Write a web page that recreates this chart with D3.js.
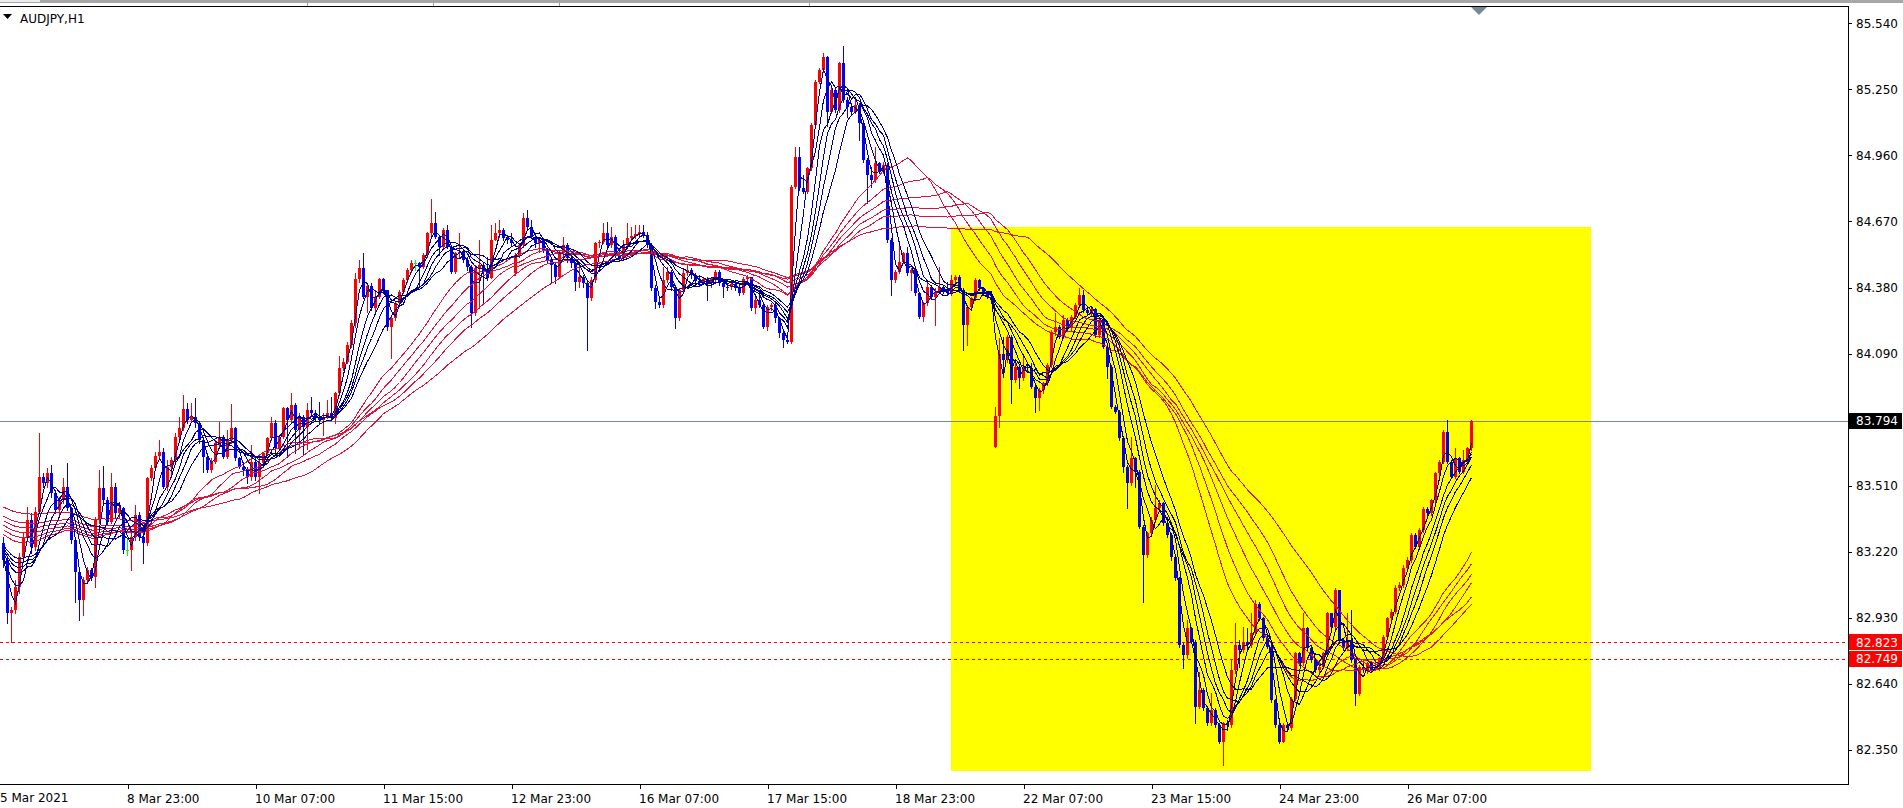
<!DOCTYPE html>
<html><head><meta charset="utf-8">
<script src="https://cdn.jsdelivr.net/npm/d3@7"></script>
<style>
html,body{margin:0;padding:0;background:#fff;overflow:hidden}
svg{display:block;font-family:"DejaVu Sans",sans-serif;}
</style></head><body>
<svg id="c" width="1903" height="808"></svg>
<script>
const symbolLabel = "AUDJPY,H1";
const closes = [
83.184,82.950,82.964,83.067,83.198,83.286,83.359,83.242,83.396,83.550,
83.520,83.564,83.477,83.403,83.447,83.506,83.411,83.272,83.133,83.008,
83.096,83.140,83.111,83.359,83.498,83.447,83.352,83.506,83.389,83.411,
83.228,83.228,83.286,83.381,83.286,83.257,83.542,83.586,83.640,83.659,
83.506,83.594,83.623,83.725,83.762,83.845,83.798,83.813,83.784,83.711,
83.637,83.579,83.616,83.696,83.725,83.637,83.711,83.762,83.630,83.594,
83.579,83.550,83.615,83.550,83.608,83.652,83.718,83.784,83.674,83.725,
83.850,83.798,83.864,83.754,83.813,83.769,83.842,83.831,83.813,83.798,
83.813,83.828,83.806,83.915,84.025,84.054,84.128,84.223,84.416,84.468,
84.337,84.387,84.289,84.340,84.416,84.369,84.208,84.245,84.311,84.362,
84.413,84.457,84.486,84.486,84.471,84.523,84.618,84.662,84.603,84.559,
84.632,84.559,84.450,84.530,84.537,84.501,84.471,84.267,84.464,84.479,
84.450,84.420,84.589,84.618,84.632,84.596,84.589,84.574,84.523,84.567,
84.684,84.647,84.603,84.574,84.589,84.545,84.501,84.479,84.428,84.530,
84.567,84.508,84.486,84.406,84.428,84.398,84.332,84.413,84.574,84.581,
84.618,84.567,84.603,84.523,84.508,84.567,84.596,84.606,84.615,84.625,
84.610,84.567,84.376,84.318,84.303,84.413,84.450,84.384,84.245,84.369,
84.445,84.457,84.435,84.410,84.401,84.416,84.398,84.420,84.450,84.401,
84.384,84.381,84.395,84.376,84.357,84.416,84.425,84.289,84.325,84.303,
84.208,84.296,84.303,84.245,84.179,84.150,84.142,84.823,84.955,84.816,
84.801,84.904,85.094,85.284,85.335,85.394,85.152,85.248,85.160,85.365,
85.204,85.174,85.152,85.182,85.101,84.940,84.874,84.852,84.926,84.889,
84.918,84.589,84.413,84.450,84.494,84.530,84.443,84.457,84.355,84.252,
84.311,84.384,84.340,84.362,84.384,84.370,84.355,84.413,84.428,84.370,
84.216,84.296,84.333,84.413,84.377,84.355,84.340,84.326,83.814,84.090,
84.062,84.164,83.974,84.033,83.981,84.033,84.025,83.945,83.894,83.930,
83.960,84.040,84.186,84.208,84.164,84.238,84.201,84.252,84.303,84.347,
84.281,84.267,84.284,84.172,84.238,84.121,84.033,83.857,83.835,83.718,
83.594,83.521,83.630,83.572,83.330,83.206,83.301,83.360,83.411,83.433,
83.345,83.294,83.199,83.104,82.811,82.767,82.884,82.825,82.540,82.613,
82.533,82.467,82.526,82.460,82.387,82.467,82.460,82.701,82.811,82.789,
82.825,82.811,82.862,82.993,82.928,82.840,82.803,82.569,82.459,82.386,
82.459,82.445,82.576,82.774,82.730,82.884,82.796,82.745,82.701,82.715,
82.774,82.950,82.891,83.052,82.832,82.796,82.832,82.745,82.598,82.715,
82.701,82.730,82.701,82.715,82.752,82.847,82.928,82.957,83.059,83.074,
83.147,83.184,83.293,83.242,83.315,83.410,83.389,83.447,83.564,83.615,
83.747,83.615,83.549,83.630,83.571,83.623,83.674,83.794];
const highs = [
83.286,83.198,82.979,83.096,83.213,83.301,83.418,83.389,83.418,83.740,
83.564,83.586,83.601,83.491,83.462,83.542,83.608,83.418,83.286,83.140,
83.111,83.155,83.147,83.374,83.579,83.597,83.462,83.564,83.520,83.433,
83.418,83.275,83.301,83.425,83.396,83.330,83.550,83.601,83.659,83.711,
83.674,83.623,83.637,83.740,83.813,83.908,83.872,83.874,83.894,83.791,
83.725,83.652,83.630,83.711,83.791,83.733,83.755,83.869,83.769,83.637,
83.616,83.594,83.689,83.630,83.638,83.659,83.725,83.813,83.798,83.732,
83.857,83.857,83.915,83.872,83.828,83.820,83.872,83.901,83.842,83.879,
83.828,83.886,83.901,83.923,84.081,84.069,84.142,84.237,84.442,84.501,
84.530,84.398,84.398,84.369,84.420,84.420,84.369,84.259,84.318,84.369,
84.420,84.464,84.501,84.501,84.493,84.530,84.625,84.767,84.713,84.610,
84.640,84.654,84.567,84.537,84.618,84.545,84.515,84.479,84.479,84.589,
84.486,84.515,84.654,84.662,84.676,84.640,84.610,84.618,84.530,84.574,
84.706,84.720,84.676,84.610,84.603,84.596,84.552,84.508,84.493,84.545,
84.603,84.574,84.523,84.493,84.471,84.435,84.413,84.428,84.581,84.589,
84.662,84.669,84.647,84.610,84.545,84.589,84.662,84.647,84.654,84.654,
84.654,84.625,84.574,84.391,84.340,84.471,84.471,84.457,84.391,84.376,
84.457,84.479,84.464,84.442,84.435,84.428,84.425,84.428,84.457,84.457,
84.413,84.398,84.406,84.401,84.391,84.428,84.435,84.428,84.340,84.369,
84.311,84.303,84.311,84.311,84.252,84.193,84.164,84.830,84.999,84.999,
84.874,84.911,85.101,85.291,85.343,85.408,85.397,85.262,85.255,85.372,
85.441,85.218,85.189,85.204,85.189,85.109,84.948,84.911,84.999,84.933,
84.933,84.926,84.596,84.457,84.582,84.538,84.560,84.465,84.465,84.362,
84.318,84.399,84.392,84.377,84.472,84.392,84.406,84.435,84.435,84.435,
84.377,84.304,84.340,84.421,84.416,84.384,84.362,84.348,83.857,84.160,
84.164,84.172,84.172,84.047,84.040,84.084,84.047,84.047,83.952,83.938,
83.967,84.047,84.194,84.267,84.216,84.259,84.245,84.259,84.311,84.377,
84.369,84.296,84.293,84.289,84.245,84.245,84.128,84.040,83.864,83.842,
83.725,83.601,83.725,83.638,83.579,83.338,83.308,83.374,83.513,83.447,
83.440,83.352,83.301,83.206,83.111,82.818,82.921,82.891,82.833,82.694,
82.621,82.540,82.599,82.533,82.467,82.474,82.482,82.745,82.906,82.835,
82.891,82.884,82.950,83.008,83.001,82.935,82.847,82.811,82.576,82.467,
82.467,82.474,82.584,82.781,82.781,82.950,82.891,82.803,82.752,82.730,
82.781,82.957,82.950,83.059,83.052,82.840,82.950,82.964,82.752,82.723,
82.730,82.737,82.737,82.745,82.759,82.854,82.935,82.971,83.074,83.089,
83.162,83.198,83.301,83.301,83.323,83.418,83.418,83.454,83.571,83.623,
83.754,83.798,83.623,83.674,83.637,83.667,83.681,83.798];
const lows = [
83.155,82.909,82.825,82.950,83.037,83.184,83.272,83.213,83.228,83.389,
83.506,83.506,83.462,83.389,83.374,83.433,83.403,83.257,83.001,82.920,
82.942,83.081,83.096,83.067,83.345,83.433,83.337,83.345,83.374,83.374,
83.213,83.206,83.140,83.272,83.272,83.169,83.250,83.535,83.579,83.630,
83.498,83.491,83.550,83.608,83.711,83.755,83.784,83.791,83.769,83.696,
83.572,83.572,83.572,83.608,83.681,83.630,83.630,83.696,83.623,83.586,
83.557,83.520,83.535,83.535,83.476,83.593,83.645,83.711,83.652,83.667,
83.718,83.638,83.784,83.652,83.674,83.645,83.670,83.820,83.798,83.784,
83.732,83.806,83.798,83.784,83.908,84.018,84.047,84.120,84.208,84.406,
84.332,84.274,84.281,84.274,84.332,84.354,84.193,84.069,84.237,84.303,
84.354,84.406,84.450,84.457,84.384,84.464,84.515,84.610,84.596,84.523,
84.552,84.552,84.442,84.442,84.515,84.493,84.457,84.208,84.259,84.289,
84.311,84.413,84.479,84.589,84.603,84.589,84.574,84.567,84.435,84.515,
84.559,84.640,84.596,84.559,84.537,84.537,84.493,84.406,84.398,84.420,
84.515,84.493,84.471,84.369,84.384,84.384,84.106,84.325,84.406,84.559,
84.574,84.559,84.559,84.515,84.501,84.501,84.559,84.589,84.596,84.603,
84.603,84.559,84.369,84.289,84.296,84.296,84.406,84.369,84.201,84.237,
84.362,84.435,84.420,84.398,84.391,84.395,84.325,84.384,84.410,84.391,
84.340,84.369,84.372,84.369,84.347,84.351,84.406,84.281,84.267,84.296,
84.201,84.193,84.281,84.230,84.164,84.120,84.135,84.135,84.816,84.809,
84.794,84.794,84.896,85.087,85.277,85.328,85.087,85.145,85.152,85.152,
85.196,85.130,85.138,85.145,85.028,84.933,84.750,84.823,84.845,84.882,
84.882,84.582,84.348,84.406,84.443,84.487,84.435,84.370,84.348,84.245,
84.231,84.304,84.333,84.216,84.355,84.355,84.348,84.348,84.399,84.362,
84.106,84.128,84.289,84.326,84.370,84.348,84.333,84.311,83.680,83.770,
83.989,84.055,83.872,83.967,83.938,83.974,84.018,83.938,83.835,83.842,
83.916,83.952,84.033,84.172,84.157,84.157,84.194,84.194,84.245,84.296,
84.274,84.259,84.259,84.164,84.164,84.113,83.981,83.850,83.828,83.711,
83.572,83.411,83.513,83.506,83.323,83.001,83.199,83.294,83.352,83.404,
83.338,83.286,83.184,83.096,82.804,82.709,82.752,82.818,82.467,82.533,
82.526,82.460,82.460,82.452,82.379,82.284,82.438,82.452,82.686,82.716,
82.781,82.796,82.803,82.854,82.920,82.832,82.796,82.562,82.452,82.380,
82.386,82.437,82.437,82.569,82.723,82.723,82.789,82.737,82.693,82.693,
82.708,82.767,82.884,82.884,82.825,82.789,82.789,82.737,82.547,82.591,
82.693,82.686,82.693,82.701,82.701,82.745,82.840,82.920,82.950,83.052,
83.067,83.140,83.176,83.235,83.235,83.308,83.381,83.381,83.440,83.557,
83.608,83.608,83.542,83.542,83.564,83.564,83.608,83.667];
const firstOpen = 83.257;
const gapOpens = [[128, 84.442], [248, 83.682]];
const shortPeriods = [3, 5, 8, 10, 12, 15];
const shortStart = [83.19, 83.20, 83.22, 83.23, 83.24, 83.25];
const longPeriods = [30, 35, 40, 45, 50, 60];
const longStart = [83.30, 83.32, 83.34, 83.36, 83.38, 83.42];
const priceTicks = [85.54, 85.25, 84.96, 84.67, 84.38, 84.09, 83.51, 83.22, 82.93, 82.64, 82.35];
const timeTickBars = [31, 63, 95, 127, 159, 191, 223, 255, 287, 319, 351];
const timeTickLabels = ["8 Mar 23:00","10 Mar 07:00","11 Mar 15:00","12 Mar 23:00","16 Mar 07:00","17 Mar 15:00","18 Mar 23:00","22 Mar 07:00","23 Mar 15:00","24 Mar 23:00","26 Mar 07:00"];
const firstDateLabel = "5 Mar 2021";
const currentPrice = 83.794;
const levelPrices = [82.823, 82.749];
const zoneBars = [237, 397];
const zonePrices = [84.646, 82.258];

// ---------- build ----------
const n = closes.length;
const gapMap = new Map(gapOpens);
const bars = closes.map((c, i) => {
  const o = gapMap.has(i) ? gapMap.get(i) : (i === 0 ? firstOpen : closes[i - 1]);
  return {i, o, c, h: Math.max(highs[i], o, c), l: Math.min(lows[i], o, c)};
});
// simple moving average; closes before the first visible bar are taken at the MA's starting level
function sma(N, start) {
  let sum = start * N;
  return closes.map((c, i) => {
    sum += c - (i - N >= 0 ? closes[i - N] : start);
    return sum / N;
  });
}

const W = 1903, H = 808, plotR = 1848, plotT = 6, plotB = 784;
const svg = d3.select("#c");
const x = d3.scaleLinear().domain([0, n - 1]).range([3, 3 + 4 * (n - 1)]);
const y = d3.scaleLinear().domain([85.54, 82.35]).range([23.3, 750]);
const Y = v => Math.round(y(v));

svg.append("rect").attr("width", W).attr("height", H).attr("fill", "#fff");
svg.append("rect").attr("x", 0).attr("y", 0).attr("width", W).attr("height", 3).attr("fill", "#a7a7a7");
svg.append("rect").attr("x", 0).attr("y", 0).attr("width", 40).attr("height", 2).attr("fill", "#ececec");
[307, 433, 559, 809].forEach(px => svg.append("rect").attr("x", px).attr("y", 0).attr("width", 1).attr("height", 6).attr("fill", "#a0a0a0"));

const defs = svg.append("defs");
defs.append("clipPath").attr("id", "clip").append("rect").attr("x", 0).attr("y", plotT + 1).attr("width", plotR).attr("height", plotB - plotT - 1);
const g = svg.append("g").attr("clip-path", "url(#clip)");

g.append("rect").attr("x", x(zoneBars[0])).attr("y", Y(zonePrices[0]))
  .attr("width", x(zoneBars[1]) - x(zoneBars[0])).attr("height", Y(zonePrices[1]) - Y(zonePrices[0]))
  .attr("fill", "#ffff00");

g.append("line").attr("x1", 0).attr("x2", plotR).attr("y1", Y(currentPrice) + 0.5).attr("y2", Y(currentPrice) + 0.5)
  .attr("stroke", "#778899").attr("stroke-width", 1);
levelPrices.forEach(p => g.append("line").attr("x1", 0).attr("x2", plotR).attr("y1", Y(p) + 0.5).attr("y2", Y(p) + 0.5)
  .attr("stroke", "#ff0000").attr("stroke-width", 1).attr("stroke-dasharray", "3,3").attr("shape-rendering", "crispEdges"));

const colorOf = b => b.c > b.o ? "#ff0000" : (b.c < b.o ? "#0000ff" : "#00ff00");
const cg = g.append("g").attr("shape-rendering", "crispEdges");
cg.selectAll("rect.w").data(bars).join("rect").attr("class", "w")
  .attr("x", b => x(b.i)).attr("y", b => Y(b.h)).attr("width", 1)
  .attr("height", b => Math.max(1, Y(b.l) - Y(b.h) + 1)).attr("fill", colorOf);
cg.selectAll("rect.b").data(bars).join("rect").attr("class", "b")
  .attr("x", b => x(b.i) - 1).attr("y", b => Y(Math.max(b.o, b.c))).attr("width", 3)
  .attr("height", b => Math.max(1, Y(Math.min(b.o, b.c)) - Y(Math.max(b.o, b.c)))).attr("fill", colorOf);

const line = d3.line().x((d, i) => x(i) + 0.5).y(d => y(d));
longPeriods.forEach((p, k) => g.append("path").datum(sma(p, longStart[k])).attr("d", line)
  .attr("fill", "none").attr("stroke", "#dc143c").attr("stroke-width", 1).attr("shape-rendering", "crispEdges"));
shortPeriods.forEach((p, k) => g.append("path").datum(sma(p, shortStart[k])).attr("d", line)
  .attr("fill", "none").attr("stroke", "#00008b").attr("stroke-width", 1).attr("shape-rendering", "crispEdges"));

svg.append("rect").attr("x", 0).attr("y", plotT).attr("width", plotR + 1).attr("height", 1).attr("fill", "#000");
svg.append("rect").attr("x", plotR).attr("y", plotT).attr("width", 1).attr("height", plotB - plotT + 1).attr("fill", "#000");
svg.append("rect").attr("x", 0).attr("y", plotB).attr("width", plotR + 1).attr("height", 1).attr("fill", "#000");

const ya = svg.append("g").attr("transform", `translate(${plotR + 1},0)`)
  .call(d3.axisRight(y).tickValues(priceTicks).tickFormat(d3.format(".3f")).tickSize(3).tickPadding(4));
ya.select(".domain").remove();
ya.selectAll("line").attr("stroke", "#000").attr("shape-rendering", "crispEdges");
ya.selectAll("text").attr("font-size", 12).attr("font-family", "DejaVu Sans").attr("fill", "#000");

const xa = svg.append("g").attr("transform", `translate(0.5,${plotB + 1})`)
  .call(d3.axisBottom(x).tickValues(timeTickBars).tickFormat((d, i) => timeTickLabels[i]).tickSize(4).tickPadding(5));
xa.select(".domain").remove();
xa.selectAll("line").attr("stroke", "#000").attr("shape-rendering", "crispEdges");
xa.selectAll("text").attr("text-anchor", "start").attr("x", -1).attr("font-size", 12).attr("font-family", "DejaVu Sans").attr("fill", "#000");
svg.append("text").attr("x", 0).attr("y", 802).attr("font-size", 12).attr("fill", "#000").text(firstDateLabel);

function tag(p, bg) {
  const cy = y(p);
  svg.append("rect").attr("x", plotR + 1).attr("y", Math.round(cy - 8)).attr("width", W - plotR - 2).attr("height", 16).attr("fill", bg);
  svg.append("text").attr("x", plotR + 8).attr("y", cy).attr("dy", "0.36em").attr("font-size", 12).attr("fill", "#fff").text(d3.format(".3f")(p));
}
tag(currentPrice, "#000");
levelPrices.forEach(p => tag(p, "#ff0000"));

svg.append("path").attr("d", "M3,14L12,14L7.5,19Z").attr("fill", "#000");
svg.append("text").attr("x", 20).attr("y", 23).attr("font-size", 12).attr("fill", "#000").text(symbolLabel);
svg.append("path").attr("d", `M${x(n) - 4},7L${x(n) + 12},7L${x(n) + 4},15Z`).attr("fill", "#778899");
</script>
</body></html>
